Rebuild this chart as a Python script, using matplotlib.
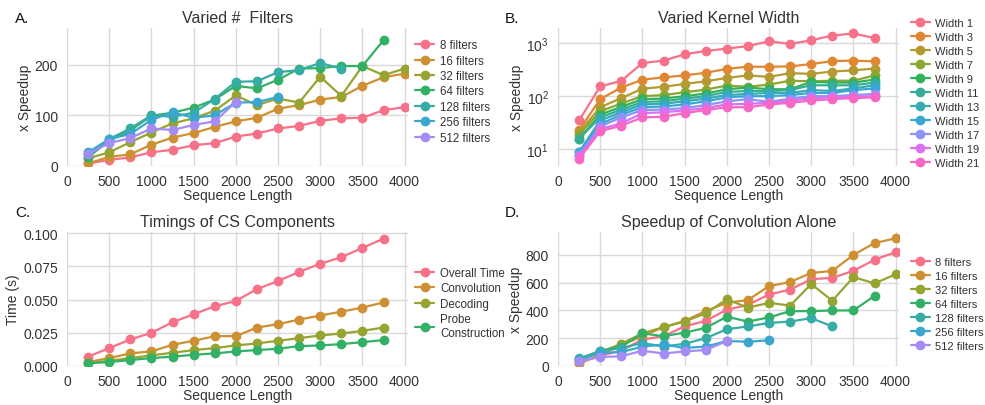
import matplotlib
matplotlib.use('Agg')
import matplotlib.pyplot as plt
import seaborn as sns

sns.set_style('whitegrid')
plt.rcParams['font.family'] = ['Liberation Sans', 'DejaVu Sans']

# x 值 (序列长度)
seq_len = [250, 500, 750, 1000, 1250, 1500, 1750, 2000, 2250, 2500,
           2750, 3000, 3250, 3500, 3750, 4000]

# A. 不同 filter 数量的加速比
filter_names = ['8 filters', '16 filters', '32 filters', '64 filters',
                '128 filters', '256 filters', '512 filters']
a_8 = [5, 12, 17, 27, 32, 41, 45, 58, 64, 74, 79, 89, 94, 95, 110, 116]
a_16 = [5, 18, 23, 42, 56, 65, 77, 88, 95, 113, 120, 131, 136, 158, 175, 182]
a_32 = [15, 27, 47, 66, 84, 94, 109, 139, 120, 133, 125, 176, 138, 197, 179, 192]
a_64 = [17, 50, 70, 99, 105, 115, 131, 158, 153, 170, 192, 193, 197, 197, 248]
a_128 = [23, 53, 74, 100, 97, 105, 132, 166, 167, 185, 189, 203, 192]
a_256 = [27, 53, 63, 91, 106, 95, 100, 125, 126, 136]
a_512 = [24, 45, 55, 74, 71, 81, 88, 126]
a_series = [a_8, a_16, a_32, a_64, a_128, a_256, a_512]

# B. 不同 kernel 宽度的加速比 (log)
width_names = ['Width 1', 'Width 3', 'Width 5', 'Width 7', 'Width 9', 'Width 11',
               'Width 13', 'Width 15', 'Width 17', 'Width 19', 'Width 21']
b_w1 = [35, 152, 194, 418, 465, 610, 705, 780, 870, 1070, 955, 1120, 1370, 1500, 1230]
b_w3 = [23, 88, 145, 204, 225, 245, 275, 325, 358, 355, 363, 400, 455, 465, 450]
b_w5 = [21, 62, 92, 138, 150, 170, 190, 220, 245, 230, 270, 262, 290, 305, 330]
b_w7 = [19, 52, 73, 100, 105, 118, 133, 158, 150, 165, 195, 190, 195, 195, 245]
b_w9 = [16, 45, 63, 88, 90, 100, 112, 135, 145, 135, 135, 185, 180, 180, 205]
b_w11 = [16, 40, 56, 78, 80, 90, 100, 120, 125, 125, 130, 160, 160, 160, 180]
b_w13 = [9, 35, 50, 70, 72, 80, 90, 105, 110, 115, 115, 130, 125, 140, 160]
b_w15 = [9, 30, 45, 62, 64, 70, 80, 95, 100, 100, 105, 115, 115, 130, 140]
b_w17 = [8, 27, 40, 55, 56, 60, 68, 80, 88, 78, 90, 100, 100, 105, 110]
b_w19 = [7.5, 24, 31, 48, 50, 54, 60, 70, 72, 75, 82, 92, 95, 98, 100]
b_w21 = [6.7, 22, 28, 40, 41, 48, 55, 62, 62, 70, 75, 83, 88, 92, 95]
b_series = [b_w1, b_w3, b_w5, b_w7, b_w9, b_w11, b_w13, b_w15, b_w17, b_w19, b_w21]

# C. 各组件耗时
comp_names = ['Overall Time', 'Convolution', 'Decoding', 'Probe\nConstruction']
c_overall = [0.007, 0.0135, 0.020, 0.025, 0.033, 0.039, 0.045, 0.049, 0.058, 0.064,
             0.071, 0.077, 0.082, 0.089, 0.096]
c_conv = [0.003, 0.006, 0.0095, 0.011, 0.016, 0.019, 0.0225, 0.0225, 0.029, 0.0315,
          0.035, 0.038, 0.041, 0.044, 0.048]
c_decode = [0.002, 0.004, 0.006, 0.008, 0.010, 0.012, 0.0135, 0.0155, 0.017, 0.019,
            0.021, 0.023, 0.0245, 0.0265, 0.029]
c_probe = [0.002, 0.003, 0.0045, 0.006, 0.007, 0.0085, 0.0095, 0.011, 0.012, 0.013,
           0.015, 0.0155, 0.0165, 0.018, 0.0195]
c_series = [c_overall, c_conv, c_decode, c_probe]

# D. 仅卷积的加速比
d_8 = [20, 75, 110, 190, 215, 285, 325, 405, 440, 515, 550, 625, 635, 685, 765, 820]
d_16 = [20, 80, 150, 215, 280, 325, 395, 455, 475, 575, 605, 670, 685, 800, 885, 920]
d_32 = [40, 100, 160, 235, 280, 320, 380, 480, 420, 455, 435, 590, 470, 640, 595, 660]
d_64 = [50, 110, 140, 235, 215, 240, 275, 355, 320, 350, 395, 395, 400, 400, 505]
d_128 = [55, 105, 130, 165, 140, 160, 200, 265, 285, 310, 320, 345, 285]
d_256 = [45, 95, 100, 140, 155, 130, 140, 180, 175, 185]
d_512 = [35, 65, 70, 110, 90, 105, 115, 180]
d_series = [d_8, d_16, d_32, d_64, d_128, d_256, d_512]

W, H = 985, 406
fig = plt.figure(figsize=(W / 100, H / 100), dpi=100)


def make_ax(left, top, right, bottom):
    return fig.add_axes([left / W, 1 - bottom / H, (right - left) / W, (bottom - top) / H])


axA = make_ax(67, 29, 408, 167)
axB = make_ax(558, 29, 899, 167)
axC = make_ax(67, 233, 408, 367)
axD = make_ax(558, 233, 899, 367)


def draw(ax, series, names, pal):
    for ys, name, col in zip(series, names, pal):
        ax.plot(seq_len[:len(ys)], ys, '-o', color=col, label=name, lw=1.6, ms=6)


pal8 = sns.color_palette('husl', 8)
draw(axA, a_series, filter_names, pal8)
draw(axB, b_series, width_names, sns.color_palette('husl', 11))
draw(axC, c_series, comp_names, pal8[:4])
draw(axD, d_series, filter_names, pal8)

axB.set_yscale('log')

axA.set_ylim(0, 272)
axB.set_ylim(4.9, 1900)
axC.set_ylim(0, 0.101)
axD.set_ylim(0, 965)
axA.set_yticks([0, 100, 200])
axC.set_yticks([0, 0.025, 0.05, 0.075, 0.1])
axC.yaxis.set_major_formatter(matplotlib.ticker.FormatStrFormatter('%.3f'))
axD.set_yticks([0, 200, 400, 600, 800])

titles = ['Varied #  Filters', 'Varied Kernel Width',
          'Timings of CS Components', 'Speedup of Convolution Alone']
ylabels = ['x Speedup', 'x Speedup', 'Time (s)', 'x Speedup']
for ax, t, yl in zip([axA, axB, axC, axD], titles, ylabels):
    ax.set_xlim(0, 4040)
    ax.set_xticks(range(0, 4001, 500))
    ax.set_title(t, fontsize=11.5, color='#333333', pad=4)
    ax.set_xlabel('Sequence Length', fontsize=10, color='#333333', labelpad=0)
    ax.set_ylabel(yl, fontsize=10, color='#333333', labelpad=2)
    ax.tick_params(labelsize=10, colors='#333333', length=0)
    ax.tick_params(axis='x', pad=6)
    ax.tick_params(axis='y', pad=6.5)
    ax.grid(True, color='#d9d9d9', lw=1)
    for s in ax.spines.values():
        s.set_visible(False)

leg_kw = dict(frameon=False, handlelength=1.7, handletextpad=0.5,
              borderaxespad=0, borderpad=0, labelcolor='#333333')
axA.legend(loc='center left', bbox_to_anchor=(1.02, 0.54), fontsize=8.3,
           labelspacing=0.3, **leg_kw)
axB.legend(loc='center left', bbox_to_anchor=(1.035, 0.53), fontsize=8,
           labelspacing=0.36, **leg_kw)
axC.legend(loc='center left', bbox_to_anchor=(1.02, 0.47), fontsize=8.3,
           labelspacing=0.3, **leg_kw)
axD.legend(loc='center left', bbox_to_anchor=(1.035, 0.46), fontsize=8,
           labelspacing=0.36, **leg_kw)

# 面板编号
for lbl, x, y in [('A.', 15, 19), ('B.', 505, 19), ('C.', 15, 213), ('D.', 505, 213)]:
    fig.text(x / W, 1 - y / H, lbl, fontsize=11, va='center', ha='left', color='#111111')

fig.savefig('out.png', dpi=100)
